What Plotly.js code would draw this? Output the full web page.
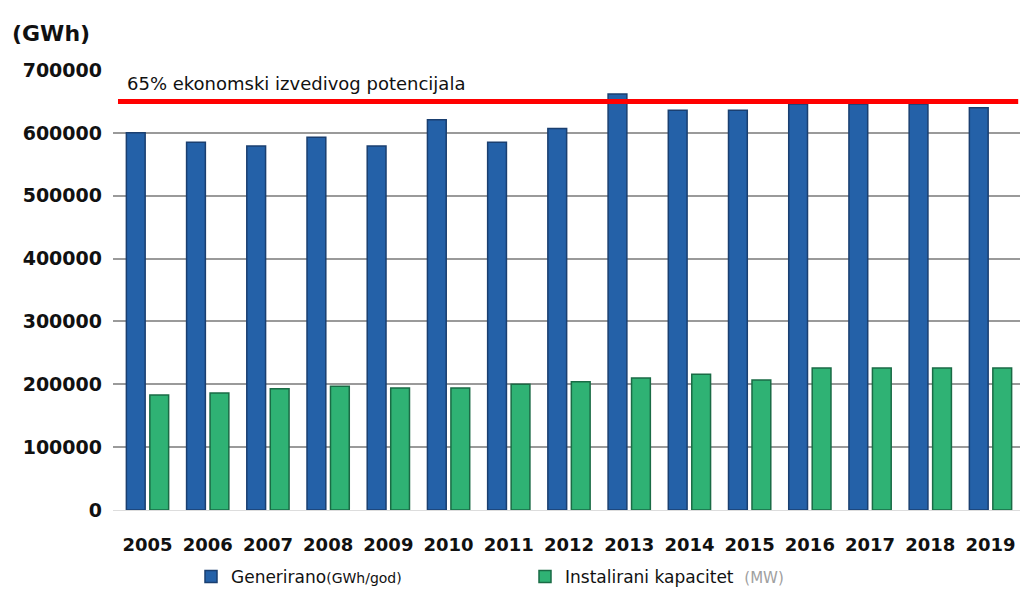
<!DOCTYPE html>
<html>
<head>
<meta charset="utf-8">
<script src="https://cdn.plot.ly/plotly-3.0.1.min.js"></script>
<style>html,body{margin:0;padding:0;background:#fff;}#chart{width:1021px;height:596px;}</style>
</head>
<body>
<div id="chart"></div>
<script>
const years = ["2005","2006","2007","2008","2009","2010","2011","2012","2013","2014","2015","2016","2017","2018","2019"];
const generirano = [600000,585000,579000,593000,579000,621000,585000,607000,662000,636000,636000,646000,646000,646000,640000];
const kapacitet = [183000,186000,193000,197000,194000,194000,200000,204000,210000,216000,207000,226000,226000,226000,226000];
const potencijal = 650000;
const potencijalLabel = "65% ekonomski izvedivog potencijala";
const yTicks = [0,100000,200000,300000,400000,500000,600000,700000];

const traces = [
  {type:'bar', x:years, y:generirano, name:'Generirano<span style="font-size:14px">(GWh/god)</span>',
   marker:{color:'#2461a8', line:{color:'#1a3f70', width:1.5}}},
  {type:'bar', x:years, y:kapacitet, name:'Instalirani kapacitet  <span style="color:#a0a0a0;font-size:15px">(MW)</span>',
   marker:{color:'#2fb274', line:{color:'#1a6b45', width:1.5}}}
];

const layout = {
  width:1021, height:596,
  margin:{l:113, r:1, t:70, b:83},
  paper_bgcolor:'#fff', plot_bgcolor:'#fff',
  barmode:'group', bargap:0.22, bargroupgap:0.2,
  font:{family:'DejaVu Sans', color:'#111'},
  showlegend:true,
  legend:{orientation:'h', x:0.086, xanchor:'left', y:-0.152, yanchor:'middle',
          font:{family:'DejaVu Sans', size:17, color:'#111'}, entrywidth:289, entrywidthmode:'pixels',
          itemwidth:30, traceorder:'normal'},
  xaxis:{type:'category', range:[-0.573,14.49], showgrid:false, zeroline:false, showline:false,
         ticks:'', tickfont:{family:'DejaVu Sans', size:18, color:'#111', weight:'bold'}, ticklabelstandoff:22},
  yaxis:{range:[0,700000], tickvals:yTicks, ticktext:yTicks.map(v=>String(v)), showgrid:true, gridcolor:'#9a9a9a', gridwidth:2,
         zeroline:true, zerolinecolor:'#dddddd', zerolinewidth:1, showline:false, ticks:'',
         tickfont:{family:'DejaVu Sans', size:19, color:'#111', weight:'bold'}, ticklabelstandoff:10},
  shapes:[{type:'line', xref:'paper', yref:'y', x0:0.0055, x1:0.998, y0:potencijal, y1:potencijal,
           line:{color:'#ff0000', width:5}}],
  annotations:[
    {xref:'paper', yref:'y', x:0.0132, y:678000, xanchor:'left', yanchor:'middle', showarrow:false,
     text:potencijalLabel, font:{family:'DejaVu Sans', size:18, color:'#111'}},
    {xref:'paper', yref:'paper', x:-0.114, y:1.083, xanchor:'left', yanchor:'middle', showarrow:false,
     text:'<b>(GWh)</b>', font:{family:'DejaVu Sans', size:22, color:'#111'}}
  ]
};
Plotly.newPlot('chart', traces, layout, {displayModeBar:false, staticPlot:true});
</script>
</body>
</html>
